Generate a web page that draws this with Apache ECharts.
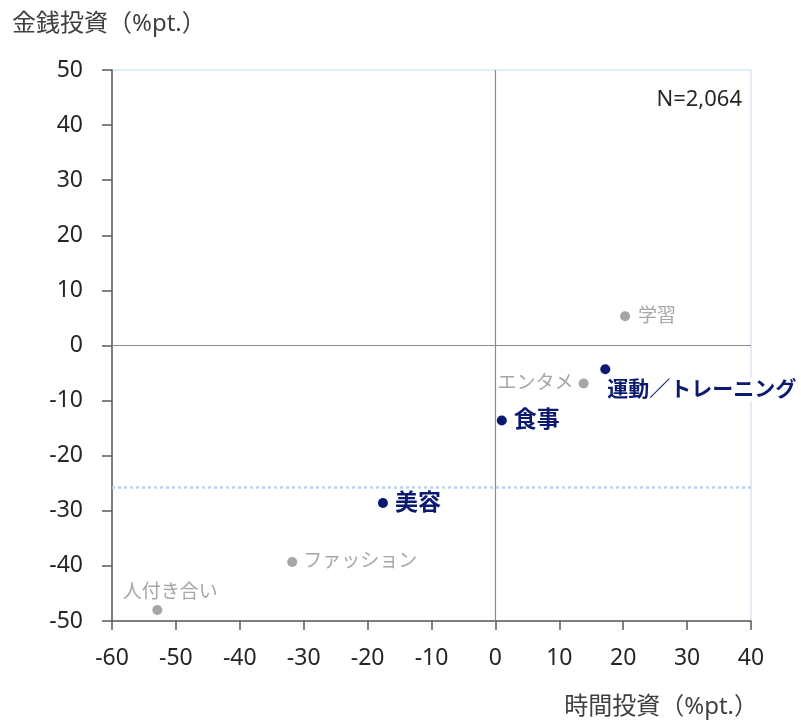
<!DOCTYPE html>
<html><head><meta charset="utf-8">
<script src="https://cdn.jsdelivr.net/npm/echarts@6/dist/echarts.min.js"></script>
<style>html,body{margin:0;padding:0;background:#fff}#c{width:801px;height:722px}</style>
</head><body><div id="c"></div>
<script>
// Data
const highlightNames = ['運動／トレーニング', '食事', '美容'];
const highlightX = [17.2, 1.0, -17.6];
const highlightY = [-4.3, -13.6, -28.6];
const otherNames = ['学習', 'エンタメ', 'ファッション', '人付き合い'];
const otherX = [20.3, 13.8, -31.8, -52.9];
const otherY = [5.3, -6.9, -39.3, -48.0];
const averageY = -25.7;
const xTicks = {min: -60, max: 40, interval: 10};
const yTicks = {min: -50, max: 50, interval: 10};
const yTitle = '金銭投資（%pt.）';
const xTitle = '時間投資（%pt.）';
const note = 'N=2,064';

const FONT = '"Noto Sans", "Noto Sans CJK JP", sans-serif';
const NAVY = '#0b1a70';
const GREY = '#a6a6a6';

const hiLabel = {
  '運動／トレーニング': {position: [7, 14], align: 'left', verticalAlign: 'top', fontSize: 21, backgroundColor: '#fff', padding: [1, 0, 1, 0]},
  '食事': {position: 'right', distance: 7},
  '美容': {position: 'right', distance: 7}
};
const otLabel = {
  '学習': {position: 'right', distance: 8},
  'エンタメ': {position: 'left', distance: 5},
  'ファッション': {position: 'right', distance: 6},
  '人付き合い': {position: 'top', distance: 3, offset: [13, 0]}
};

const hiData = highlightNames.map((n, i) => ({name: n, value: [highlightX[i], highlightY[i]], label: hiLabel[n]}));
const otData = otherNames.map((n, i) => ({name: n, value: [otherX[i], otherY[i]], label: otLabel[n]}));

const chart = echarts.init(document.getElementById('c'), null, {renderer: 'canvas'});
chart.setOption({
  animation: false,
  textStyle: {fontFamily: FONT},
  title: [
    {text: yTitle, left: 7, top: 7, textStyle: {fontFamily: FONT, fontSize: 24, fontWeight: 'normal', color: '#404040'}},
    {text: xTitle, right: 38, top: 690, textStyle: {fontFamily: FONT, fontSize: 24, fontWeight: 'normal', color: '#404040'}},
    {text: note, right: 54, top: 84, textStyle: {fontFamily: FONT, fontSize: 22, fontWeight: 'normal', color: '#262626'}}
  ],
  grid: {left: 112, top: 70, right: 50, bottom: 101, show: true, borderColor: '#c8d8ee', borderWidth: 1, backgroundColor: 'transparent'},
  xAxis: {
    type: 'value', min: xTicks.min, max: xTicks.max, interval: xTicks.interval,
    axisLine: {onZero: false, lineStyle: {color: '#595959', width: 1.5}},
    axisTick: {show: true, length: 9, inside: false, lineStyle: {color: '#595959', width: 1.5}},
    axisLabel: {margin: 26, fontSize: 23, color: '#262626', fontFamily: FONT},
    splitLine: {show: false}
  },
  yAxis: {
    type: 'value', min: yTicks.min, max: yTicks.max, interval: yTicks.interval,
    axisLine: {show: true, onZero: false, lineStyle: {color: '#595959', width: 1.5}},
    axisTick: {show: true, length: 10, inside: false, lineStyle: {color: '#595959', width: 1.5}},
    axisLabel: {margin: 29, fontSize: 23, color: '#262626', fontFamily: FONT},
    splitLine: {show: false}
  },
  series: [
    {
      type: 'scatter', name: 'lines', data: [], silent: true,
      markLine: {
        silent: true, symbol: 'none', label: {show: false},
        data: [
          {xAxis: 0, lineStyle: {color: '#8c8c8c', width: 1.2, type: 'solid'}},
          {yAxis: 0, lineStyle: {color: '#8c8c8c', width: 1.2, type: 'solid'}},
          {yAxis: averageY, lineStyle: {color: '#bcd2ea', width: 2.5, type: [3, 3]}}
        ]
      }
    },
    {
      type: 'scatter', name: 'other', symbolSize: 10, itemStyle: {color: GREY, opacity: 1},
      label: {show: true, formatter: '{b}', color: GREY, fontSize: 19, fontFamily: FONT},
      data: otData
    },
    {
      type: 'scatter', name: 'highlight', symbolSize: 10, itemStyle: {color: NAVY, opacity: 1},
      label: {show: true, formatter: '{b}', color: NAVY, fontSize: 23, fontWeight: 'bold', fontFamily: FONT},
      data: hiData
    }
  ]
});
</script></body></html>
